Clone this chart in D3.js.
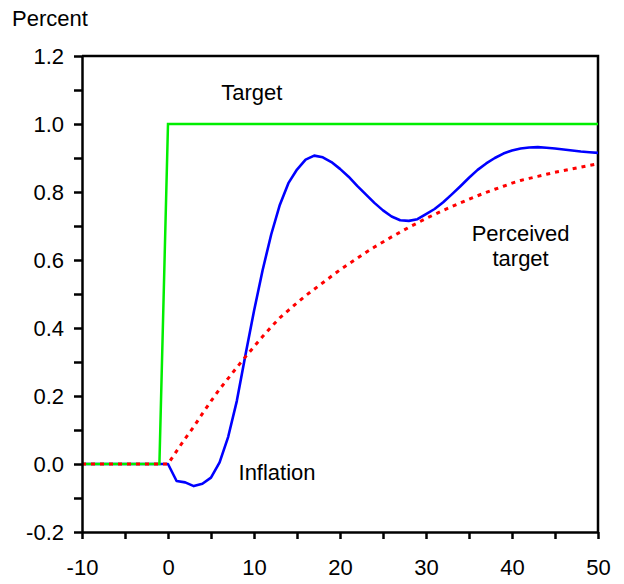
<!DOCTYPE html>
<html><head><meta charset="utf-8">
<script src="https://cdn.jsdelivr.net/npm/d3@7"></script>
<style>body{margin:0;background:#fff}svg{display:block}text{font-family:Arial,"Liberation Sans",sans-serif}</style>
</head><body>
<script>
const quarters = d3.range(-10, 51);
const inflation = [0,0,0,0,0,0,0,0,0,0,0,
 -0.05,-0.054,-0.065,-0.058,-0.04,0.005,0.08,0.185,0.32,0.45,
 0.57,0.675,0.762,0.826,0.866,0.895,0.907,0.902,0.888,0.868,
 0.845,0.818,0.793,0.768,0.746,0.728,0.717,0.715,0.72,0.735,
 0.75,0.77,0.793,0.817,0.842,0.865,0.884,0.90,0.913,0.922,
 0.928,0.931,0.932,0.93,0.928,0.925,0.922,0.919,0.917,0.915];
const perceived = [0,0,0,0,0,0,0,0,0,0,0,
 0.038,0.075,0.11,0.148,0.185,0.22,0.252,0.284,0.315,0.345,
 0.375,0.403,0.43,0.452,0.474,0.495,0.514,0.533,0.552,0.571,
 0.588,0.605,0.622,0.638,0.653,0.668,0.682,0.696,0.709,0.722,
 0.734,0.746,0.757,0.768,0.779,0.789,0.799,0.808,0.817,0.826,
 0.834,0.84,0.846,0.852,0.858,0.863,0.868,0.873,0.878,0.883];
const targetX = [-10, -1, 0, 50];
const targetY = [0, 0, 1, 1];
const yTicks = d3.range(-0.2, 1.21, 0.1).map(v => Math.round(v*10)/10);
const xTicks = d3.range(-10, 51, 5);
const labels = [
  {text:"Target", x:6.2, y:1.07, anchor:"start"},
  {text:"Inflation", x:8.2, y:-0.047, anchor:"start"},
  {text:"Perceived", x:41, y:0.657, anchor:"middle"},
  {text:"target", x:41, y:0.583, anchor:"middle"}
];

const W=624, H=584, L=82, R=598, T=56, B=532;
const svg = d3.select("body").append("svg").attr("width",W).attr("height",H);
const x = d3.scaleLinear().domain([-10,50]).range([L,R]);
const y = d3.scaleLinear().domain([-0.2,1.2]).range([B,T]);
const fmtY = d => (Math.round(d*10)%2===0) ? d.toFixed(1).replace("\u2212","-") : "";
const fmtX = d => (d%10===0) ? String(d) : "";

// frame
svg.append("path").attr("d",`M${L},${T}H${R}V${B}`).attr("fill","none").attr("stroke","#000").attr("stroke-width",2.5);

const line = d3.line().x(d=>x(d[0])).y(d=>y(d[1]));
svg.append("path").datum(quarters.map((q,i)=>[q,inflation[i]])).attr("d",line)
  .attr("fill","none").attr("stroke","#0000ff").attr("stroke-width",2.6).attr("stroke-linejoin","round");
svg.append("path").datum(targetX.map((q,i)=>[q,targetY[i]])).attr("d",line)
  .attr("fill","none").attr("stroke","#00ee00").attr("stroke-width",2.5);
svg.append("path").datum(quarters.map((q,i)=>[q,perceived[i]])).attr("d",line)
  .attr("fill","none").attr("stroke","#ff0000").attr("stroke-width",3).attr("stroke-dasharray","4,5");

const ya = svg.append("g").attr("transform",`translate(${L},0)`)
  .call(d3.axisLeft(y).tickValues(yTicks).tickSize(8).tickSizeOuter(0).tickPadding(10).tickFormat(fmtY));
const xa = svg.append("g").attr("transform",`translate(0,${B})`)
  .call(d3.axisBottom(x).tickValues(xTicks).tickSize(7).tickSizeOuter(0).tickPadding(20).tickFormat(fmtX));
[ya,xa].forEach(a=>{
  a.selectAll("path,line").attr("stroke","#000").attr("stroke-width",2.5);
  a.selectAll("text").attr("font-size",22).attr("fill","#000").attr("font-family","Arial, 'Liberation Sans', sans-serif");
});

svg.append("text").attr("x",12).attr("y",26).attr("font-size",22).text("Percent");
svg.selectAll(".lbl").data(labels).enter().append("text")
  .attr("x",d=>x(d.x)).attr("y",d=>y(d.y)).attr("text-anchor",d=>d.anchor)
  .attr("font-size",22).attr("fill","#000").text(d=>d.text);
</script>
</body></html>
